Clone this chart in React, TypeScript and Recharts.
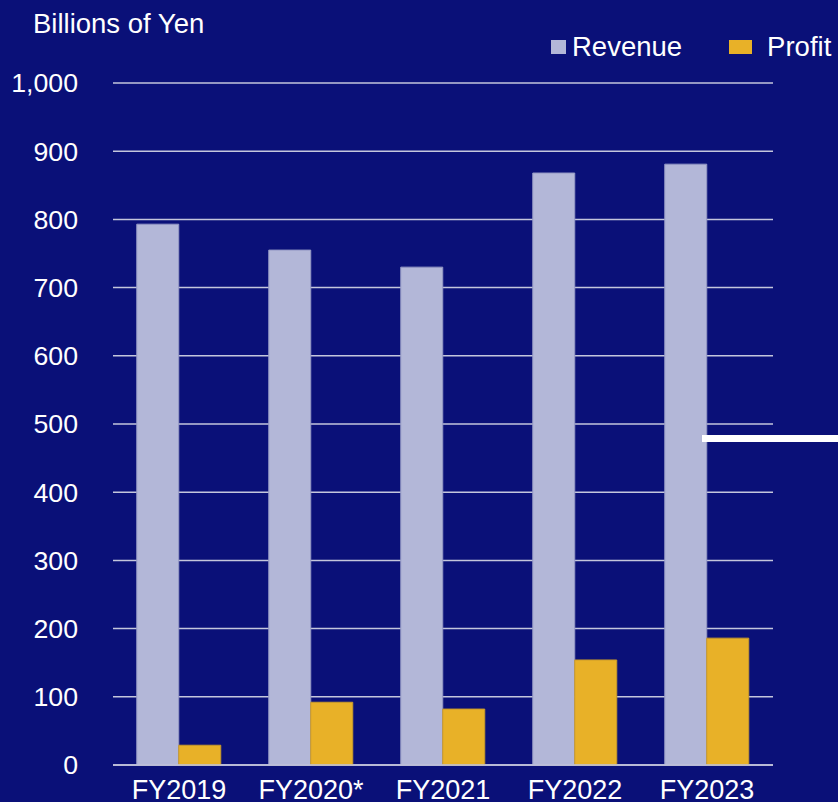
import { BarChart, Bar, XAxis, YAxis, CartesianGrid } from 'recharts'

// ─── Data ─────────────────────────────────────────────────────────────────────

const years = ['FY2019', 'FY2020*', 'FY2021', 'FY2022', 'FY2023']
const revenue = [793, 755, 730, 868, 881]
const profit = [29, 92, 82, 154, 186]
const yTicks = [0, 100, 200, 300, 400, 500, 600, 700, 800, 900, 1000]

const chartData = years.map((year, i) => ({
  year,
  revenue: revenue[i],
  profit: profit[i],
}))

// ─── Styles ───────────────────────────────────────────────────────────────────

const BG = '#0a1078'
const FONT = '"Liberation Sans", Arial, sans-serif'
const GRID = '#c4c6dc'

const series = [
  { key: 'revenue', name: 'Revenue', fill: '#b3b7d8', stroke: '#9498c4', markerW: 15, textGap: 6 },
  { key: 'profit', name: 'Profit', fill: '#e8b128', stroke: '#c99a2a', markerW: 23, textGap: 15 },
]

const fmt = (v: number) => v.toLocaleString('en-US')

function LegendBox() {
  return (
    <div
      style={{
        position: 'absolute',
        left: 551,
        top: 31,
        display: 'flex',
        alignItems: 'center',
        fontFamily: FONT,
        fontSize: 27.5,
        color: '#fff',
        whiteSpace: 'nowrap',
      }}
    >
      {series.map((s, i) => (
        <div key={s.key} style={{ display: 'flex', alignItems: 'center', marginRight: i === 0 ? 47 : 0 }}>
          <span
            style={{ display: 'inline-block', width: s.markerW, height: 14, background: s.fill, marginRight: s.textGap }}
          />
          <span>{s.name}</span>
        </div>
      ))}
    </div>
  )
}

// ─── Component ────────────────────────────────────────────────────────────────

export default function App() {
  return (
    <div
      style={{
        position: 'absolute',
        top: 0,
        left: 0,
        width: 838,
        height: 802,
        background: BG,
        overflow: 'hidden',
        fontFamily: FONT,
      }}
    >
      <div style={{ position: 'absolute', left: 33, top: 8, color: '#fff', fontSize: 27.5 }}>
        Billions of Yen
      </div>

      <BarChart
        width={838}
        height={802}
        data={chartData}
        margin={{ top: 83, right: 65, left: 0, bottom: 0 }}
        barCategoryGap="18%"
        barGap={0}
      >
        <CartesianGrid vertical={false} stroke={GRID} strokeWidth={1.5} />
        <XAxis
          dataKey="year"
          height={37}
          tickSize={0}
          tickMargin={15}
          axisLine={{ stroke: GRID, strokeWidth: 1.5 }}
          tick={{ fill: '#fff', fontSize: 27, fontFamily: FONT }}
          interval={0}
        />
        <YAxis
          width={113}
          domain={[0, 1000]}
          ticks={yTicks}
          tickFormatter={fmt}
          tickSize={0}
          tickMargin={35}
          axisLine={false}
          tick={{ fill: '#fff', fontSize: 26.7, fontFamily: FONT }}
        />
        {series.map((s) => (
          <Bar
            key={s.key}
            dataKey={s.key}
            name={s.name}
            fill={s.fill}
            stroke={s.stroke}
            strokeWidth={1}
            isAnimationActive={false}
          />
        ))}
      </BarChart>

      <LegendBox />

      {/* stray white rule on the right edge of the slide */}
      <div style={{ position: 'absolute', left: 702, top: 435, width: 136, height: 7, background: '#fff' }} />
    </div>
  )
}
